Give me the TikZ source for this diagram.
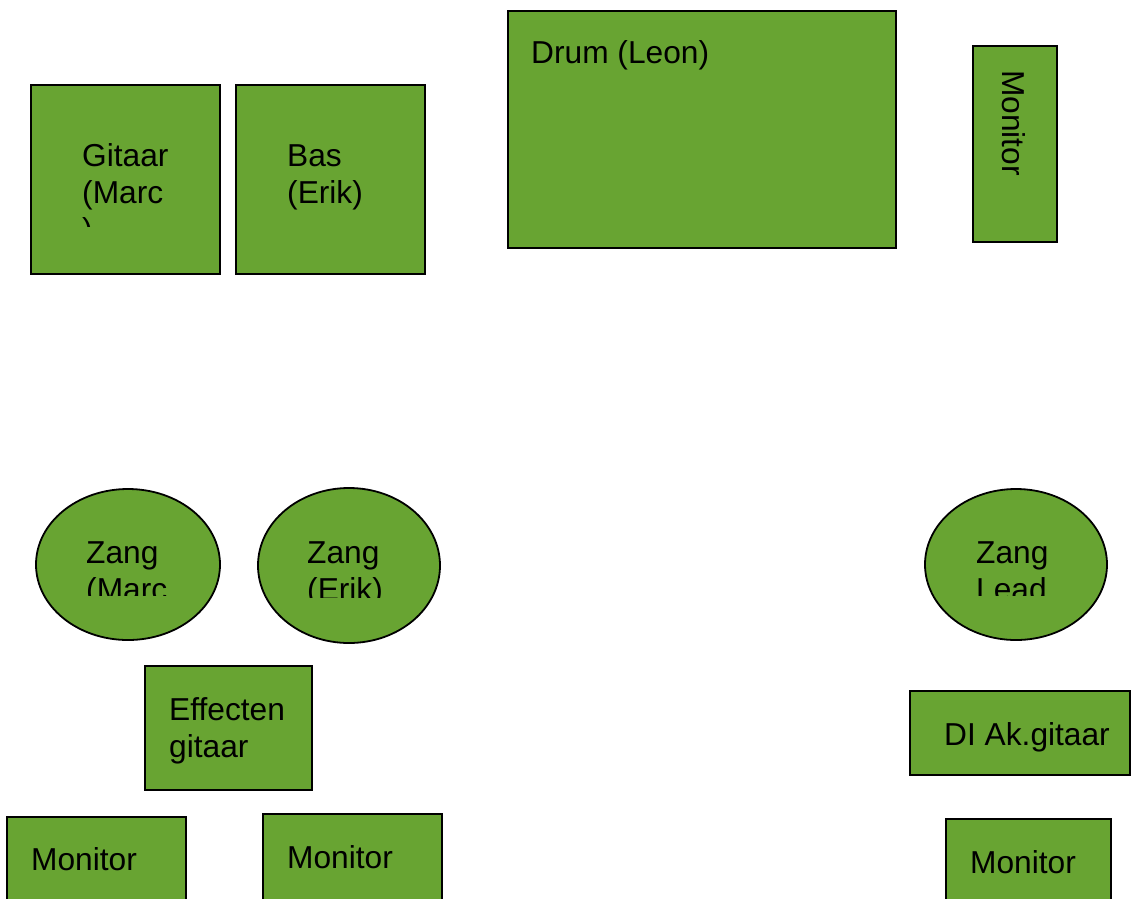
\documentclass[tikz,border=0pt]{standalone}
\usepackage{fontspec}
\setmainfont{Liberation Sans}
\usepackage{tikz}
\usetikzlibrary{shapes.geometric}
\definecolor{podiumgreen}{RGB}{104,164,50}
\tikzset{
	boxstyle/.style={rectangle,draw=black,fill=podiumgreen,line width=1.8pt,inner sep=0pt},
	zangstyle/.style={ellipse,draw=black,fill=podiumgreen,line width=1.8pt,inner sep=0pt},
	labelstyle/.style={anchor=base west,inner sep=0pt,align=left,font=\fontsize{31.7}{37}\selectfont}
}

\begin{document}
\begin{tikzpicture}[x=1pt,y=-1pt]
	\useasboundingbox (0,0) rectangle (1132,898);
	% bovenste rij
	\node[boxstyle,minimum width=189,minimum height=189] (gitaar) at (125.5,179.5) {};
	\node[boxstyle,minimum width=189,minimum height=189] (bas) at (330.5,179.5) {};
	\node[boxstyle,minimum width=388,minimum height=237] (drum) at (702,129.5) {};
	\node[boxstyle,minimum width=84,minimum height=196] (montop) at (1015,144) {};
	\begin{scope}
		\clip (31,85) rectangle (220,226);
		\node[labelstyle] (gitaartekst) at (82,240) {Gitaar\\(Marc\\)};
	\end{scope}
	\node[labelstyle] (bastekst) at (287,203) {Bas\\(Erik)};
	\node[labelstyle] (drumtekst) at (531,63) {Drum (Leon)};
	\node[labelstyle,rotate=-90] (montoptekst) at (1002,70) {Monitor};
	% zang
	\node[zangstyle,minimum width=184,minimum height=151] (zangmarc) at (128,564.5) {};
	\node[zangstyle,minimum width=182,minimum height=155] (zangerik) at (349,565.5) {};
	\node[zangstyle,minimum width=182,minimum height=151] (zanglead) at (1016,564.5) {};
	\begin{scope}
		\clip (36,489) rectangle (220,595);
		\node[labelstyle] (zangmarctekst) at (86,637) {Zang\\(Marc\\)};
	\end{scope}
	\begin{scope}
		\clip (258,488) rectangle (440,597);
		\node[labelstyle] (zangeriktekst) at (307,600) {Zang\\(Erik)};
	\end{scope}
	\begin{scope}
		\clip (925,489) rectangle (1107,595);
		\node[labelstyle] (zangleadtekst) at (976,600) {Zang\\Lead};
	\end{scope}
	% onderste rij
	\node[boxstyle,minimum width=167,minimum height=124] (effecten) at (228.5,728) {};
	\node[boxstyle,minimum width=220,minimum height=84] (di) at (1020,733) {};
	\node[boxstyle,minimum width=179,minimum height=98] (monlinks) at (96.5,866) {};
	\node[boxstyle,minimum width=179,minimum height=101] (monmidden) at (352.5,864.5) {};
	\node[boxstyle,minimum width=165,minimum height=96] (monrechts) at (1028.5,867) {};
	\node[labelstyle] (effectentekst) at (169,757) {Effecten\\gitaar};
	\node[labelstyle] (ditekst) at (944,745) {DI Ak.gitaar};
	\node[labelstyle] (monlinkstekst) at (31,870) {Monitor};
	\node[labelstyle] (monmiddentekst) at (287,868) {Monitor};
	\node[labelstyle] (monrechtstekst) at (970,873) {Monitor};
\end{tikzpicture}
\end{document}
